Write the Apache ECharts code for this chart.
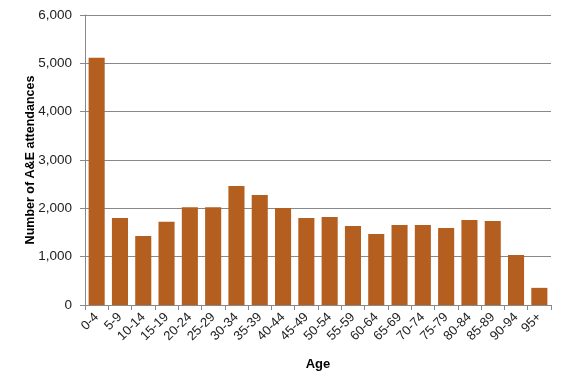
<!DOCTYPE html>
<html>
<head>
<meta charset="utf-8">
<script src="https://cdn.jsdelivr.net/npm/echarts@6/dist/echarts.min.js"></script>
<style>html,body{margin:0;padding:0;background:#fff}#c{width:565px;height:384px}</style>
</head>
<body>
<div id="c"></div>
<script>
const categories = ['0-4','5-9','10-14','15-19','20-24','25-29','30-34','35-39','40-44','45-49','50-54','55-59','60-64','65-69','70-74','75-79','80-84','85-89','90-94','95+'];
const attendances = [5115,1800,1430,1720,2025,2025,2460,2275,2005,1800,1820,1635,1470,1655,1655,1595,1760,1740,1035,355];

const chart = echarts.init(document.getElementById('c'), null, {renderer:'canvas'});
chart.setOption({
  animation:false,
  grid:{left:85,right:14,top:15,bottom:79,containLabel:false},
  xAxis:{
    type:'category',
    data:categories,
    name:'Age',
    nameLocation:'middle',
    nameGap:53,
    nameMoveOverlap:false,
    nameTextStyle:{fontFamily:'Liberation Sans',fontWeight:'bold',fontSize:13,color:'#000'},
    axisLine:{lineStyle:{color:'#888',width:1}},
    axisTick:{show:true,alignWithLabel:false,length:5,lineStyle:{color:'#888'}},
    axisLabel:{rotate:45,fontFamily:'Liberation Sans',fontSize:13,color:'#222',interval:0,margin:10}
  },
  yAxis:{
    type:'value',
    min:0,max:6000,interval:1000,
    name:'Number of A&E attendances',
    nameLocation:'middle',
    nameGap:48,
    nameMoveOverlap:false,
    nameTextStyle:{fontFamily:'Liberation Sans',fontWeight:'bold',fontSize:12.5,color:'#000'},
    axisLine:{show:true,lineStyle:{color:'#888',width:1}},
    axisTick:{show:true,length:5,lineStyle:{color:'#888'}},
    axisLabel:{fontFamily:'Liberation Sans',fontSize:13.5,color:'#222',margin:13,
      formatter:v=>v.toLocaleString('en-US')},
    splitLine:{show:true,lineStyle:{color:'#888',width:1}}
  },
  series:[{
    type:'bar',
    data:attendances,
    barCategoryGap:'31%',
    itemStyle:{color:'#B45F1F'}
  }]
});
</script>
</body>
</html>
